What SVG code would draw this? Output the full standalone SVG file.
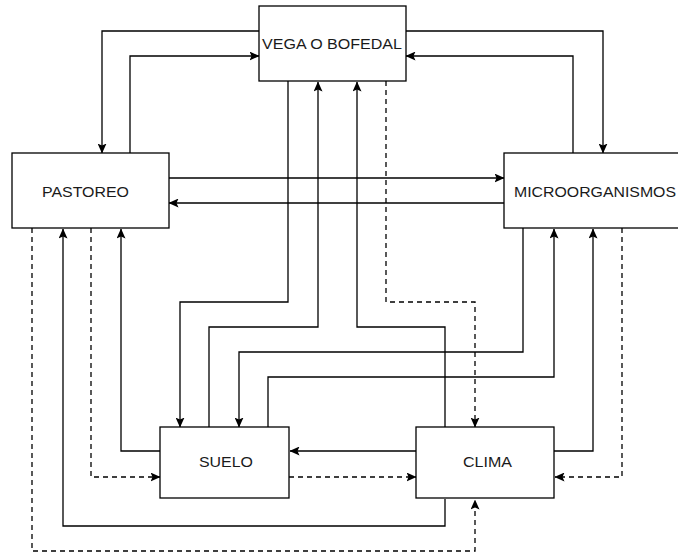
<svg xmlns="http://www.w3.org/2000/svg" width="678" height="554" viewBox="0 0 678 554">
<style>
.box{fill:#fff;stroke:#000;stroke-width:1.3}
.lbl{font-family:"Liberation Sans",Arial,sans-serif;font-size:15px;fill:#1a1a1a}
.c{fill:none;stroke:#000;stroke-width:1.3;marker-end:url(#ah)}
.d{stroke-dasharray:5 4}
</style>
<defs>
<marker id="ah" viewBox="0 0 10 9" markerUnits="userSpaceOnUse" markerWidth="10" markerHeight="9" refX="9.5" refY="4.5" orient="auto">
<path d="M0,0 L10,4.5 L0,9 L2,4.5 z" fill="#000" stroke="none"/>
</marker>
</defs>
<rect width="678" height="554" fill="#fff"/>
<g id="connectors">
<path class="c" d="M259,31 H102 V153"/>
<path class="c" d="M130,153 V56 H259"/>
<path class="c" d="M406,31 H603 V153"/>
<path class="c" d="M573,153 V56 H406"/>
<path class="c" d="M169,178 H504"/>
<path class="c" d="M504,203 H169"/>
<path class="c" d="M288,81 V302 H180 V427"/>
<path class="c" d="M209,427 V327 H318 V82"/>
<path class="c d" d="M386,81 V302 H475 V427"/>
<path class="c" d="M445,427 V327 H357 V82"/>
<path class="c" d="M523,228 V352 H239 V427"/>
<path class="c" d="M268,427 V377 H554 V229"/>
<path class="c" d="M416,451 H290"/>
<path class="c d" d="M289,477 H416"/>
<path class="c" d="M554,451 H593 V229"/>
<path class="c d" d="M622,228 V477 H555"/>
<path class="c" d="M160,451 H121 V229"/>
<path class="c d" d="M91,228 V477 H160"/>
<path class="c" d="M445,499 V526 H63 V229"/>
<path class="c d" d="M32,228 V551 H475 V500"/>
</g>
<g id="vega">
<rect class="box" x="259" y="6" width="147" height="75"/>
<text class="lbl" x="262" y="49" textLength="140" lengthAdjust="spacingAndGlyphs">VEGA O BOFEDAL</text>
</g>
<g id="pastoreo">
<rect class="box" x="12" y="153" width="157" height="75"/>
<text class="lbl" x="42" y="197" textLength="87" lengthAdjust="spacingAndGlyphs">PASTOREO</text>
</g>
<g id="microorganismos">
<rect class="box" x="504" y="153" width="190" height="75"/>
<text class="lbl" x="514" y="197" textLength="162" lengthAdjust="spacingAndGlyphs">MICROORGANISMOS</text>
</g>
<g id="suelo">
<rect class="box" x="160" y="427" width="129" height="71"/>
<text class="lbl" x="199" y="467" textLength="54" lengthAdjust="spacingAndGlyphs">SUELO</text>
</g>
<g id="clima">
<rect class="box" x="416" y="427" width="138" height="71"/>
<text class="lbl" x="463" y="467" textLength="49" lengthAdjust="spacingAndGlyphs">CLIMA</text>
</g>
</svg>
